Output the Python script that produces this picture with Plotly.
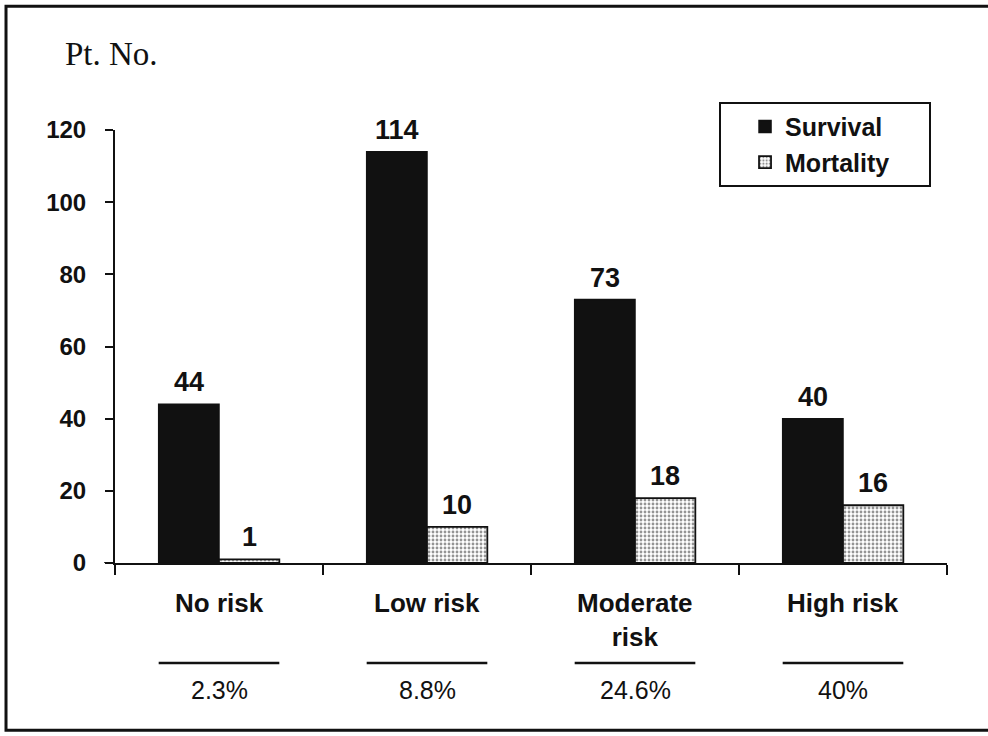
import plotly.graph_objects as go

# Patients per risk group
categories = ["No risk", "Low risk", "Moderate risk", "High risk"]
category_labels = ["No risk", "Low risk", "Moderate<br>risk", "High risk"]
survival = [44, 114, 73, 40]
mortality = [1, 10, 18, 16]
mortality_pct = ["2.3%", "8.8%", "24.6%", "40%"]
y_ticks = [0, 20, 40, 60, 80, 100, 120]

SANS = "Liberation Sans, Arial, sans-serif"
SERIF = "Liberation Serif, Times New Roman, serif"
BARGAP = 0.42
offset = (1 - BARGAP) / 4  # centre of each bar relative to its category
PAD = "\u00a0" * 5          # widens the legend box to the right

fig = go.Figure()
fig.add_trace(go.Bar(
    name="Survival", x=categories, y=survival,
    marker=dict(color="#111111", line=dict(color="#111111", width=1.5)),
))
fig.add_trace(go.Bar(
    name="Mortality" + PAD, x=categories, y=mortality,
    marker=dict(
        color="white",
        line=dict(color="#111111", width=1.8),
        pattern=dict(shape=".", fgcolor="#2a2a2a", bgcolor="white",
                     size=4, solidity=0.4, fillmode="overlay"),
    ),
))

annotations = []
# value labels above each bar
for i, (s, m) in enumerate(zip(survival, mortality)):
    for val, dx in ((s, -offset), (m, offset)):
        annotations.append(dict(
            x=i + dx, y=val, xref="x", yref="y", text=str(val),
            showarrow=False, yanchor="bottom", yshift=5,
            font=dict(family=SANS, size=27, color="#111111", weight="bold"),
        ))

shapes = []
for i, (lab, pct) in enumerate(zip(category_labels, mortality_pct)):
    annotations.append(dict(
        x=i, y=-0.052, xref="x", yref="paper", text=lab, showarrow=False,
        yanchor="top", font=dict(family=SANS, size=26, color="#111111", weight="bold"),
    ))
    annotations.append(dict(
        x=i, y=-0.293, xref="x", yref="paper", text=pct, showarrow=False,
        yanchor="middle", font=dict(family=SANS, size=25, color="#111111"),
    ))
    shapes.append(dict(
        type="line", xref="x", yref="paper", x0=i - 0.29, x1=i + 0.29,
        y0=-0.231, y1=-0.231, line=dict(color="#111111", width=2.5),
    ))

# axis title in serif
annotations.append(dict(
    x=-0.063, y=1.176, xref="paper", yref="paper", text="Pt. No.",
    showarrow=False, xanchor="left", yanchor="middle",
    font=dict(family=SERIF, size=33, color="#111111"),
))

# small stub of the baseline left of the y axis
shapes.append(dict(type="line", xref="paper", yref="y", x0=-0.013, x1=0,
                   y0=0, y1=0, line=dict(color="#111111", width=2)))
# outer frame
shapes.append(dict(type="rect", xref="paper", yref="paper",
                   x0=-0.131, x1=1.07, y0=-0.386, y1=1.286,
                   line=dict(color="#111111", width=3), fillcolor="rgba(0,0,0,0)"))

fig.update_layout(
    width=988, height=736,
    margin=dict(l=115, r=41, t=130, b=173),
    paper_bgcolor="white", plot_bgcolor="white",
    barmode="group", bargap=BARGAP, bargroupgap=0,
    annotations=annotations, shapes=shapes,
    legend=dict(
        x=0.726, y=1.065, xanchor="left", yanchor="top",
        bgcolor="white", bordercolor="#111111", borderwidth=2,
        font=dict(family=SANS, size=25, color="#111111", weight="bold"),
        indentation=24,
    ),
    xaxis=dict(
        range=[-0.5, 3.5], showline=True, linecolor="#111111", linewidth=2,
        ticks="outside", tickson="boundaries", ticklen=10, tickwidth=2,
        tickcolor="#111111", showticklabels=False, showgrid=False, zeroline=False,
    ),
    yaxis=dict(
        range=[0, 120], tickvals=y_ticks, showline=True, linecolor="#111111",
        linewidth=2, ticks="outside", ticklen=8, tickwidth=2, tickcolor="#111111",
        showgrid=False, zeroline=False, ticklabelstandoff=14,
        tickfont=dict(family=SANS, size=24, color="#111111", weight="bold"),
    ),
)

fig.write_html("out.html")
